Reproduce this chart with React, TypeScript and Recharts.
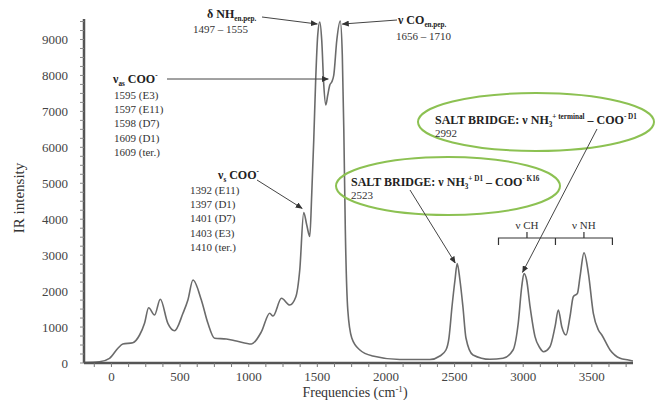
import React from "react";
import { LineChart, Line, XAxis, YAxis } from "recharts";

// IR spectrum (cm-1 vs intensity)
const freq = [
  -200, -87, -14, 47, 83, 156, 205, 241, 271, 314, 356, 411, 460, 521, 557, 594,
  655, 703, 752, 837, 910, 1020, 1093, 1153, 1177, 1239, 1299, 1343, 1372, 1401,
  1423, 1445, 1459, 1474, 1488, 1503, 1518, 1532, 1547, 1562, 1576, 1591, 1605,
  1620, 1642, 1667, 1682, 1693, 1704, 1722, 1751, 1810, 1904, 2101, 2320, 2393,
  2437, 2459, 2481, 2503, 2519, 2539, 2561, 2583, 2634, 2758, 2853, 2926, 2964,
  2989, 3006, 3025, 3050, 3086, 3122, 3147, 3195, 3232, 3256, 3281, 3312, 3341,
  3365, 3395, 3414, 3443, 3475, 3511, 3548, 3573, 3633, 3706, 3767, 3800,
];
const intensity = [
  15, 36, 131, 409, 529, 565, 779, 1104, 1538, 1335, 1772, 1104, 898, 1383, 1753,
  2309, 1753, 1104, 687, 668, 612, 529, 871, 1383, 1308, 1800, 1614, 1836, 2587,
  4187, 3839, 3519, 4674, 6204, 7873, 9125, 9487, 8986, 7734, 7178, 7456, 7734,
  7817, 8012, 8986, 9514, 8569, 6482, 3700, 1474, 695, 362, 195, 97, 97, 195,
  362, 695, 1558, 2309, 2768, 2309, 1558, 695, 223, 103, 131, 362, 1113, 2114,
  2490, 2309, 1566, 732, 417, 314, 453, 1010, 1474, 1010, 779, 1288, 1844, 1939,
  2401, 3069, 2495, 1383, 918, 779, 362, 131, 83, 56,
];

const xTicks = [-125, 0, 125, 250, 375, 500, 625, 750, 875, 1000, 1125, 1250, 1375,
  1500, 1625, 1750, 1875, 2000, 2125, 2250, 2375, 2500, 2625, 2750, 2875, 3000,
  3125, 3250, 3375, 3500, 3625, 3750];
const yTicks = [0, 250, 500, 750, 1000, 1250, 1500, 1750, 2000, 2250, 2500, 2750,
  3000, 3250, 3500, 3750, 4000, 4250, 4500, 4750, 5000, 5250, 5500, 5750, 6000,
  6250, 6500, 6750, 7000, 7250, 7500, 7750, 8000, 8250, 8500, 8750, 9000, 9250, 9500];

const data = freq.map((f, i) => ({ f, v: intensity[i] }));

const FONT = "'Liberation Serif','Times New Roman',serif";
const W = 661;
const H = 400;
// plot box, kept in sync with margins/axis sizes below
const PL = 84, PR = 633, PT = 19, PB = 363;
const XD: [number, number] = [-200, 3800];
const YD: [number, number] = [0, 9570];
const sx = (v: number) => PL + ((v - XD[0]) / (XD[1] - XD[0])) * (PR - PL);
const sy = (v: number) => PB - ((v - YD[0]) / (YD[1] - YD[0])) * (PB - PT);

type Part = { t: string; sub?: boolean; sup?: boolean };

function Rich({ x, y, parts, size = 11, bold = false, color = "#222" }: {
  x: number; y: number; parts: Part[]; size?: number; bold?: boolean; color?: string;
}) {
  // small sub/superscripts via dy shifts, reset after each
  let shift = 0;
  return (
    <text x={x} y={y} fontFamily={FONT} fontSize={size} fontWeight={bold ? 700 : 400} fill={color}>
      {parts.map((p, i) => {
        const target = p.sub ? size * 0.25 : p.sup ? -size * 0.4 : 0;
        const dy = target - shift;
        shift = target;
        return (
          <tspan key={i} dy={dy} fontSize={p.sub || p.sup ? size * 0.6 : size}>
            {p.t}
          </tspan>
        );
      })}
    </text>
  );
}

function Arrow({ x1, y1, x2, y2 }: { x1: number; y1: number; x2: number; y2: number }) {
  return <line x1={x1} y1={y1} x2={x2} y2={y2} stroke="#444" strokeWidth={1} markerEnd="url(#ah)" />;
}

function Lines({ x, y, rows, gap = 14.2 }: { x: number; y: number; rows: string[]; gap?: number }) {
  return (
    <text fontFamily={FONT} fontSize={11} fill="#333">
      {rows.map((r, i) => (
        <tspan key={i} x={x} y={y + i * gap}>{r}</tspan>
      ))}
    </text>
  );
}

function Annotations() {
  const chL = sx(2820), mid = sx(3235), nhR = sx(3650);
  return (
    <svg width={W} height={H} style={{ position: "absolute", left: 0, top: 0, pointerEvents: "none" }}>
      <defs>
        <marker id="ah" markerWidth="7" markerHeight="6" refX="6.5" refY="3" orient="auto" markerUnits="userSpaceOnUse">
          <path d="M0,0 L7,3 L0,6 Z" fill="#333" />
        </marker>
      </defs>

      {/* delta NH */}
      <Rich x={207} y={18} bold size={12} parts={[{ t: "δ NH" }, { t: "en.pep.", sub: true }]} />
      <Lines x={193} y={33} rows={["1497 – 1555"]} />
      <Arrow x1={262} y1={17} x2={sx(1500)} y2={sy(9430)} />

      {/* nu CO */}
      <Rich x={398} y={24} bold size={12} parts={[{ t: "ν CO" }, { t: "en.pep.", sub: true }]} />
      <Lines x={396} y={40} rows={["1656 – 1710"]} />
      <Arrow x1={397} y1={20} x2={sx(1682)} y2={sy(9430)} />

      {/* nu_as COO- */}
      <Rich x={113} y={83} bold size={12} parts={[{ t: "ν" }, { t: "as", sub: true }, { t: " COO" }, { t: "-", sup: true }]} />
      <Lines x={114} y={99} rows={["1595 (E3)", "1597 (E11)", "1598 (D7)", "1609 (D1)", "1609 (ter.)"]} />
      <Arrow x1={167} y1={79} x2={sx(1580)} y2={sy(7900)} />

      {/* nu_s COO- */}
      <Rich x={218} y={179} bold size={12} parts={[{ t: "ν" }, { t: "s", sub: true }, { t: " COO" }, { t: "-", sup: true }]} />
      <Lines x={190} y={194} rows={["1392 (E11)", "1397 (D1)", "1401 (D7)", "1403 (E3)", "1410 (ter.)"]} />
      <Arrow x1={257} y1={180} x2={sx(1390)} y2={sy(4300)} />

      {/* salt bridges */}
      <ellipse cx={536} cy={122} rx={118} ry={29} fill="none" stroke="#8cc152" strokeWidth={2} />
      <Rich x={435} y={124} bold size={12} parts={[
        { t: "SALT BRIDGE: ν NH" }, { t: "3", sub: true }, { t: "+ terminal", sup: true },
        { t: " – COO" }, { t: "- D1", sup: true }]} />
      <Lines x={435} y={137} rows={["2992"]} />
      <Arrow x1={597} y1={129} x2={sx(2995)} y2={sy(2520)} />

      <ellipse cx={448} cy={186} rx={112} ry={29} fill="none" stroke="#8cc152" strokeWidth={2} />
      <Rich x={351} y={186} bold size={12} parts={[
        { t: "SALT BRIDGE: ν NH" }, { t: "3", sub: true }, { t: "+ D1", sup: true },
        { t: " – COO" }, { t: "- K16", sup: true }]} />
      <Lines x={351} y={199} rows={["2523"]} />
      <Arrow x1={410} y1={190} x2={sx(2505)} y2={sy(2780)} />

      {/* CH / NH brackets */}
      <path d={`M${chL},245 L${chL},238 L${nhR},238 L${nhR},245 M${mid},238 L${mid},245 M${(chL + mid) / 2},238 L${(chL + mid) / 2},232 M${(mid + nhR) / 2},238 L${(mid + nhR) / 2},232`}
        fill="none" stroke="#333" strokeWidth={1.2} />
      <text x={(chL + mid) / 2} y={229} textAnchor="middle" fontFamily={FONT} fontSize={11} fill="#333">ν CH</text>
      <text x={(mid + nhR) / 2} y={229} textAnchor="middle" fontFamily={FONT} fontSize={11} fill="#333">ν NH</text>

      {/* axis titles */}
      <text transform="translate(24,198) rotate(-90)" textAnchor="middle" fontFamily={FONT} fontSize={15} fill="#333">IR intensity</text>
      <text x={355} y={397} textAnchor="middle" fontFamily={FONT} fontSize={14} fill="#333">
        Frequencies (cm<tspan dy={-5} fontSize={9}>-1</tspan><tspan dy={5}>)</tspan>
      </text>
    </svg>
  );
}

export default function App() {
  const tickStyle = { fill: "#444", fontSize: 13, fontFamily: FONT };
  return (
    <div style={{ position: "absolute", left: 0, top: 0, width: W, height: H, background: "#fff" }}>
      <LineChart width={W} height={H} data={data} margin={{ top: PT, right: W - PR, bottom: 0, left: 0 }}>
        <XAxis
          type="number"
          dataKey="f"
          domain={XD}
          allowDataOverflow
          ticks={xTicks}
          interval={0}
          tickFormatter={(v: number) => (v % 500 === 0 ? String(v) : "")}
          tick={tickStyle}
          tickSize={4}
          tickMargin={5}
          height={H - PB}
          axisLine={{ stroke: "#555", strokeWidth: 2.5 }}
          tickLine={{ stroke: "#777" }}
        />
        <YAxis
          type="number"
          domain={YD}
          allowDataOverflow
          ticks={yTicks}
          interval={0}
          tickFormatter={(v: number) => (v % 1000 === 0 ? String(v) : "")}
          tick={tickStyle}
          tickSize={4}
          tickMargin={12}
          width={PL}
          axisLine={{ stroke: "#555", strokeWidth: 2.5 }}
          tickLine={{ stroke: "#888" }}
        />
        <Line
          type="monotone"
          dataKey="v"
          stroke="#6b6b6b"
          strokeWidth={1.6}
          dot={false}
          isAnimationActive={false}
        />
      </LineChart>
      <Annotations />
    </div>
  );
}
